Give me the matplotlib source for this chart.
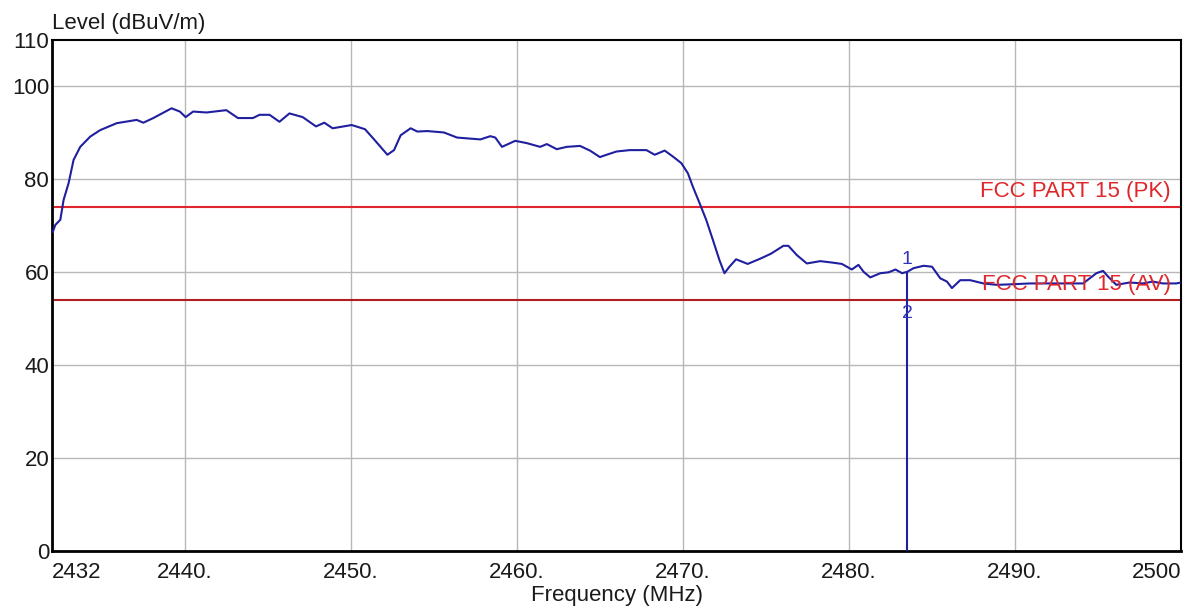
"""Radiated emission scan near the 2483.5 MHz band edge with FCC Part 15 limits."""

from __future__ import annotations

import matplotlib

matplotlib.use("Agg")
import matplotlib.pyplot as plt

FREQ_MHZ = [
    2432.05, 2432.2, 2432.5, 2432.7, 2433.0, 2433.3, 2433.7, 2434.3, 2434.9,
    2435.9, 2437.1, 2437.5, 2438.1, 2439.2, 2439.7, 2440.05, 2440.5, 2441.3,
    2442.5, 2443.2, 2444.1, 2444.5, 2445.1, 2445.7, 2446.3, 2447.1, 2447.9,
    2448.4, 2448.9, 2450.05, 2450.85, 2451.35, 2452.2, 2452.6, 2453.0, 2453.6,
    2454.0, 2454.6, 2455.6, 2456.4, 2457.8, 2458.4, 2458.7, 2459.1, 2459.9,
    2460.6, 2461.4, 2461.8, 2462.4, 2463.0, 2463.8, 2464.4, 2465.0, 2465.4,
    2466.0, 2466.8, 2467.8, 2468.3, 2468.9, 2469.4, 2469.9, 2470.3, 2470.6,
    2471.0, 2471.4, 2471.8, 2472.2, 2472.5, 2472.8, 2473.2, 2473.9, 2474.7,
    2475.3, 2476.05, 2476.35, 2476.86, 2477.46, 2478.27, 2478.97, 2479.57,
    2480.17, 2480.57, 2480.88, 2481.28, 2481.89, 2482.39, 2482.8, 2483.2,
    2483.5, 2483.9, 2484.5, 2485.0, 2485.5, 2485.9, 2486.2, 2486.7, 2487.3,
    2488.1, 2488.9, 2489.7, 2490.9, 2492.1, 2494.1, 2494.9, 2495.3, 2495.6,
    2496.1, 2496.9, 2497.7, 2498.3, 2498.9, 2499.7, 2500.0,
]
LEVEL_DBUV = [
    68.7, 70.2, 71.3, 75.6, 79.2, 84.2, 87.0, 89.2, 90.6,
    92.1, 92.8, 92.2, 93.2, 95.3, 94.6, 93.4, 94.6, 94.4,
    94.9, 93.2, 93.2, 93.9, 93.9, 92.4, 94.2, 93.4, 91.4,
    92.2, 91.0, 91.7, 90.8, 88.8, 85.3, 86.3, 89.5, 91.0,
    90.3, 90.4, 90.1, 89.0, 88.6, 89.3, 89.0, 87.0, 88.3,
    87.8, 87.0, 87.6, 86.5, 87.0, 87.2, 86.2, 84.8, 85.3,
    86.0, 86.3, 86.3, 85.3, 86.2, 84.9, 83.5, 81.3, 78.4,
    74.9, 71.3, 67.0, 62.6, 59.8, 61.2, 62.8, 61.8, 63.0,
    64.0, 65.7, 65.7, 63.7, 61.9, 62.4, 62.1, 61.8,
    60.6, 61.6, 60.1, 58.9, 59.8, 60.0, 60.6, 59.8,
    60.1, 60.9, 61.4, 61.2, 58.7, 58.0, 56.6, 58.3, 58.3,
    57.6, 57.3, 57.4, 57.6, 57.6, 57.6, 59.8, 60.3, 59.1,
    57.3, 57.8, 57.6, 58.0, 57.6, 57.6, 57.8,
]

LIMIT_PK = 74.0
LIMIT_AV = 54.0
LIMIT_NAMES = ["FCC PART 15 (PK)", "FCC PART 15 (AV)"]

MARKER_FREQ = 2483.5
MARKER_LEVEL = 60.1
MARKER_LABELS = ["1", "2"]
MARKER_LABEL_Y = [62.8, 51.2]

X_TICKS = [2432, 2440, 2450, 2460, 2470, 2480, 2490, 2500]
X_TICK_LABELS = ["2432", "2440.", "2450.", "2460.", "2470.", "2480.", "2490.", "2500"]
Y_TICKS = [0, 20, 40, 60, 80, 100, 110]

TRACE = "#1f1fa0"
RED = "#e0262a"
DARK_RED = "#b01e22"
GRID = "#b8b8b8"


def main() -> None:
    plt.rcParams["font.family"] = ["Liberation Sans", "DejaVu Sans"]
    fig = plt.figure(figsize=(12.01, 6.09), dpi=100)
    ax = fig.add_axes([0.0433, 0.0952, 0.9401, 0.8391])

    ax.set_xlim(2432, 2500)
    ax.set_ylim(0, 110)

    for f in X_TICKS[1:-1]:
        ax.axvline(f, color=GRID, linewidth=1.0, zorder=1)
    for v in Y_TICKS[1:-1]:
        ax.axhline(v, color=GRID, linewidth=1.0, zorder=1)

    ax.axhline(LIMIT_PK, color=RED, linewidth=1.5, zorder=2)
    ax.axhline(LIMIT_AV, color=DARK_RED, linewidth=1.5, zorder=2)
    ax.text(2499.4, LIMIT_PK + 1.2, LIMIT_NAMES[0], color=RED, fontsize=16,
            ha="right", va="bottom", zorder=4)
    ax.text(2499.4, LIMIT_AV + 1.2, LIMIT_NAMES[1], color=RED, fontsize=16,
            ha="right", va="bottom", zorder=4)

    ax.plot(FREQ_MHZ, LEVEL_DBUV, color=TRACE, linewidth=1.5, zorder=3)

    ax.vlines(MARKER_FREQ, 0, MARKER_LEVEL, color=TRACE, linewidth=1.5, zorder=3)
    for lab, y in zip(MARKER_LABELS, MARKER_LABEL_Y):
        ax.text(MARKER_FREQ, y, lab, color="#3434c0", fontsize=14,
                ha="center", va="center", zorder=4)

    ax.set_xticks(X_TICKS)
    ax.set_xticklabels(X_TICK_LABELS)
    ax.set_yticks(Y_TICKS)
    ax.tick_params(axis="both", length=0, labelsize=16, colors="#1a1a1a")
    ax.tick_params(axis="x", pad=8)
    ax.tick_params(axis="y", pad=2)
    xlabels = ax.get_xticklabels()
    xlabels[0].set_horizontalalignment("left")
    xlabels[-1].set_horizontalalignment("right")

    for side in ["left", "bottom"]:
        ax.spines[side].set_linewidth(2.0)
    for side in ["top", "right"]:
        ax.spines[side].set_linewidth(1.5)

    ax.set_xlabel("Frequency (MHz)", fontsize=16, labelpad=1, color="#1a1a1a")
    fig.text(0.0433, 0.962, "Level (dBuV/m)", fontsize=16, ha="left",
             va="center", color="#1a1a1a")

    fig.savefig("out.png", dpi=100)
    plt.close(fig)


if __name__ == "__main__":
    main()
